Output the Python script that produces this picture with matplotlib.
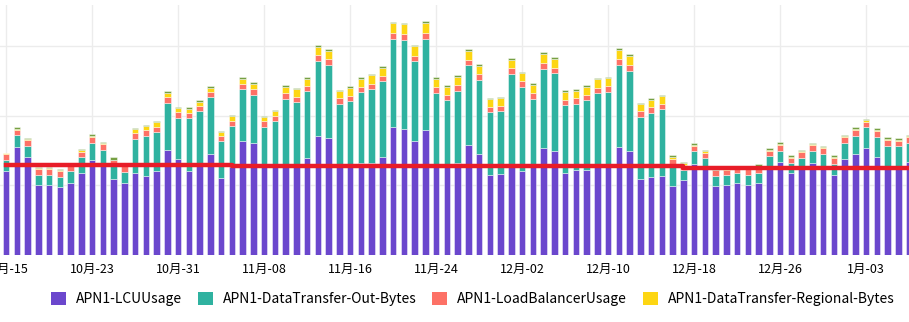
import numpy as np
import pandas as pd
import matplotlib
matplotlib.use("Agg")
import matplotlib.pyplot as plt
from matplotlib.patches import Patch

plt.rcParams['font.family'] = ['Noto Sans CJK SC', 'DejaVu Sans']

# daily cost per usage type, 10/15 .. 1/07
days = pd.date_range("2023-10-15", periods=85, freq="D")

lcu_usage = [
    12.1, 15.5, 14.0, 10.1, 10.1, 9.8, 10.3, 11.7, 13.7, 12.8,
    10.9, 10.3, 11.7, 11.4, 12.0, 15.1, 13.8, 12.0, 12.8, 14.5,
    11.0, 12.6, 16.4, 16.0, 12.8, 12.8, 13.0, 12.8, 13.9, 17.1,
    16.8, 12.8, 12.8, 13.2, 13.2, 14.1, 18.3, 18.1, 16.3, 18.0,
    12.8, 12.8, 13.2, 15.8, 14.5, 11.5, 11.6, 12.8, 12.0, 12.8,
    15.3, 14.9, 11.8, 12.2, 12.2, 12.8, 12.9, 15.5, 14.9, 10.9,
    11.2, 11.4, 9.9, 10.7, 13.1, 12.5, 9.9, 10.1, 10.4, 10.1,
    10.4, 12.6, 13.4, 11.7, 12.6, 13.2, 12.8, 11.5, 13.8, 14.5,
    15.4, 14.1, 12.8, 12.8, 13.4]

transfer_out = [
    1.5, 1.7, 1.7, 1.4, 1.4, 1.4, 1.7, 2.35, 2.4, 2.3,
    1.8, 1.6, 5.0, 5.7, 5.6, 6.7, 5.9, 7.6, 7.8, 8.1,
    5.3, 5.9, 7.4, 7.0, 5.6, 6.4, 9.4, 9.2, 9.6, 10.8,
    10.5, 8.9, 9.3, 10.2, 10.6, 10.8, 12.7, 12.8, 11.5, 13.0,
    10.5, 9.4, 10.4, 11.4, 10.6, 9.0, 9.0, 13.2, 12.1, 9.6,
    11.4, 11.2, 9.7, 9.5, 10.0, 10.4, 10.5, 11.8, 11.5, 8.9,
    9.2, 9.5, 3.1, 1.46, 1.76, 1.4, 1.48, 1.35, 1.35, 1.4,
    1.43, 1.6, 1.54, 1.49, 1.33, 1.72, 1.72, 1.62, 2.34, 2.58,
    2.97, 2.83, 2.9, 2.77, 2.73]

lb_usage = [
    0.86, 0.8, 0.86, 0.86, 0.9, 0.8, 0.7, 0.76, 0.8, 0.8,
    0.86, 0.8, 0.76, 0.8, 0.8, 0.8, 0.77, 0.76, 0.77, 0.72,
    0.8, 0.76, 0.8, 0.8, 0.8, 0.8, 0.8, 0.72, 0.76, 0.8,
    0.76, 0.77, 0.76, 0.72, 0.76, 0.8, 0.8, 0.77, 0.8, 0.8,
    0.8, 0.8, 0.77, 0.8, 0.8, 0.8, 0.8, 0.86, 0.8, 0.86,
    0.8, 0.76, 0.8, 0.8, 0.8, 0.8, 0.8, 0.8, 0.8, 0.8,
    0.8, 0.77, 0.83, 0.79, 0.8, 0.8, 0.77, 0.76, 0.76, 0.77,
    0.9, 0.77, 0.86, 0.72, 0.8, 0.8, 0.8, 0.8, 0.8, 0.8,
    0.76, 0.8, 0.8, 0.8, 0.76]

transfer_regional = [
    0.14, 0.14, 0.14, 0.14, 0.1, 0.14, 0.14, 0.24, 0.14, 0.19,
    0.14, 0.07, 0.57, 0.62, 0.62, 0.67, 0.57, 0.63, 0.62, 0.67,
    0.49, 0.63, 0.72, 0.72, 0.57, 0.67, 0.95, 1.06, 1.05, 1.2,
    1.2, 1.05, 1.15, 1.15, 1.2, 1.15, 1.43, 1.43, 1.35, 1.52,
    1.2, 1.15, 1.23, 1.3, 1.25, 1.06, 1.06, 1.15, 1.15, 1.2,
    1.4, 1.25, 1.15, 1.1, 1.1, 1.2, 1.2, 1.38, 1.3, 1.0,
    1.05, 1.15, 0.24, 0.19, 0.19, 0.2, 0.07, 0.07, 0.07, 0.07,
    0.07, 0.14, 0.19, 0.19, 0.19, 0.19, 0.14, 0.19, 0.14, 0.19,
    0.2, 0.14, 0.14, 0.14, 0.19]

# small remainder on top of every bar (not in the legend)
other = [
    0.1, 0.24, 0.1, 0.1, 0.1, 0.14, 0.14, 0.19, 0.29, 0.14,
    0.29, 0.07, 0.2, 0.2, 0.24, 0.24, 0.19, 0.19, 0.24, 0.24,
    0.19, 0.19, 0.24, 0.24, 0.19, 0.19, 0.2, 0.19, 0.24, 0.29,
    0.24, 0.19, 0.2, 0.24, 0.24, 0.24, 0.23, 0.23, 0.23, 0.24,
    0.24, 0.24, 0.24, 0.19, 0.23, 0.19, 0.23, 0.24, 0.24, 0.2,
    0.19, 0.24, 0.2, 0.19, 0.23, 0.2, 0.2, 0.24, 0.29, 0.24,
    0.24, 0.19, 0.24, 0.24, 0.2, 0.19, 0.1, 0.1, 0.1, 0.1,
    0.2, 0.19, 0.2, 0.19, 0.2, 0.19, 0.19, 0.24, 0.14, 0.24,
    0.19, 0.29, 0.24, 0.29, 0.14]

# budget line: day index where each level starts, and the level
budget_start = [0, 21, 63, 84]
budget_level = [12.86, 12.70, 12.53, 12.53]

series_names = ['APN1-LCUUsage', 'APN1-DataTransfer-Out-Bytes',
                'APN1-LoadBalancerUsage', 'APN1-DataTransfer-Regional-Bytes']
colors = ['#6b47cd', '#2fb2a0', '#fd7166', '#fdd613', '#76a043']

fig = plt.figure(figsize=(9.09, 3.22), dpi=100)
ax = fig.add_axes([0, 1 - 255 / 322, 1, 250 / 322])

x = np.arange(len(days))
bottom = np.zeros(len(days))
for vals, col in zip([lcu_usage, transfer_out, lb_usage, transfer_regional, other], colors):
    ax.bar(x, vals, width=0.6, bottom=bottom, color=col,
           edgecolor=(1, 1, 1, 0.45), linewidth=0.7, zorder=2)
    bottom += np.array(vals)

ax.plot(budget_start, budget_level, drawstyle='steps-post', color='#e81c28',
        linewidth=3.2, solid_capstyle='projecting', zorder=4)

ax.set_xlim(-0.577, 83.98)
ax.set_ylim(0, 35.87)
ax.set_yticks([10, 20, 30])
ax.set_yticklabels([])
tick_idx = np.arange(0, len(days), 8)
ax.set_xticks(tick_idx)
ax.set_xticklabels([f"{d.month}月-{d.day:02d}" for d in days[tick_idx]], fontsize=9)
ax.tick_params(length=0, pad=6)
ax.tick_params(axis='y', left=False, labelleft=False)
ax.grid(True, color='#ececec', linewidth=1)
ax.set_axisbelow(True)
for s in ax.spines.values():
    s.set_visible(False)

handles = [Patch(facecolor=c) for c in colors[:4]]
fig.legend(handles, series_names, loc='center', bbox_to_anchor=(0.52, 0.072),
           ncol=4, frameon=False, fontsize=10, handlelength=1.08, handleheight=1.08,
           handletextpad=0.7, columnspacing=1.15)

fig.savefig("out.png", dpi=100)
